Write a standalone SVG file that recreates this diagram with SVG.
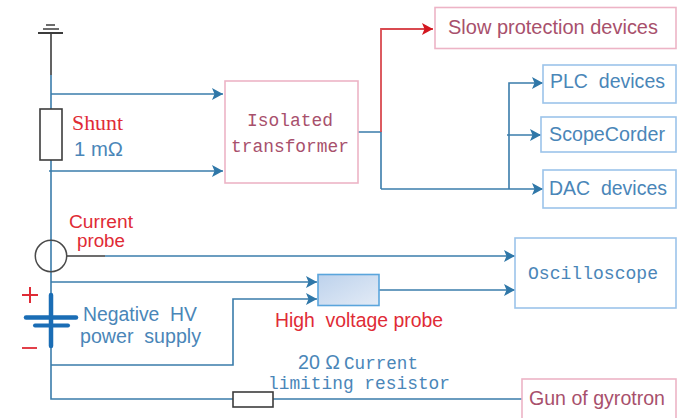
<svg xmlns="http://www.w3.org/2000/svg" width="683" height="418" viewBox="0 0 683 418">
<style>
.w{stroke:#3a7cab;stroke-width:1.6;fill:none}
.a{marker-end:url(#ah)}
.k{stroke:#3c3c3c;stroke-width:1.6;fill:none}
.kb{stroke:#3c3c3c;stroke-width:1.6;fill:#fff}
.pk{stroke:#edb4c6;stroke-width:1.6;fill:#fff}
.bl{stroke:#9cc4ea;stroke-width:1.6;fill:#fff}
text{font-family:"Liberation Sans",Arial,sans-serif;font-size:20.5px}
.m{font-family:"Liberation Mono","DejaVu Sans Mono",monospace;font-size:18.5px}
.s{font-family:"Liberation Serif",serif;font-size:20.5px}
.c{font-size:17.5px}
.rd{fill:#df2b36}.bt{fill:#4a86b8}.mr{fill:#a8506c}
</style>
<defs>
<marker id="ah" markerUnits="userSpaceOnUse" markerWidth="12" markerHeight="12" refX="11" refY="6" orient="auto"><path d="M0 0L11 6L0 12L2.500 6Z" fill="#2f77a8"/></marker>
<marker id="ar" markerUnits="userSpaceOnUse" markerWidth="12" markerHeight="12" refX="11" refY="6" orient="auto"><path d="M0 0L11 6L0 12L2.500 6Z" fill="#d3161f"/></marker>
<linearGradient id="g" x1="0" y1="0" x2="1" y2="1"><stop offset="0" stop-color="#bdd2ec"/><stop offset="1" stop-color="#e3ebf6"/></linearGradient>
</defs>
<rect width="683" height="418" fill="#fff"/>
<g id="connectors">
<path class="w" d="M51 75V360"/>
<path class="w a" d="M51 94H223"/>
<path class="w a" d="M49 171H223"/>
<path class="w" d="M358 132H381V189"/>
<path d="M381 132V29H433" fill="none" stroke="#d94a50" stroke-width="1.8" marker-end="url(#ar)"/>
<path class="w a" d="M381 189H543"/>
<path class="w a" d="M509 189V83H543"/>
<path class="w a" d="M507 135H541"/>
<path class="k" d="M67 256H105"/>
<path class="w a" d="M105 256H515"/>
<path class="w a" d="M51 282H317"/>
<path class="w a" d="M51 365H233V299H317"/>
<path class="w a" d="M379 290H515"/>
<path class="w" d="M51 360V399H233M273 399H522"/>
</g>
<g id="ground"><path class="k" d="M51 33V75"/><path d="M38 33H63" stroke="#3c3c3c" stroke-width="2"/><path d="M43 29H59" stroke="#3c3c3c" stroke-width="1.5"/><path d="M46 25H55" stroke="#3c3c3c" stroke-width="1.5"/></g>
<g id="shunt"><rect class="kb" x="40" y="109" width="22" height="51"/><text class="s rd" x="72" y="130" textLength="51" lengthAdjust="spacingAndGlyphs">Shunt</text><text class="bt" x="74" y="156" textLength="49" lengthAdjust="spacingAndGlyphs">1 mΩ</text></g>
<g id="current-probe"><circle cx="51" cy="256" r="15.7" fill="none" stroke="#4a4a4a" stroke-width="1.5"/><text class="rd c" x="69" y="228" textLength="64" lengthAdjust="spacingAndGlyphs">Current</text><text class="rd c" x="77" y="247" textLength="48" lengthAdjust="spacingAndGlyphs">probe</text></g>
<g id="power-supply">
<path d="M51 295V346" stroke="#1a6db5" stroke-width="4.500" stroke-linecap="round"/>
<path d="M26 317.500H76" stroke="#1a6db5" stroke-width="4.500" stroke-linecap="round"/>
<path d="M35 325.500H68" stroke="#1a6db5" stroke-width="4" stroke-linecap="round"/>
<path d="M30 287V303M22 295H38" stroke="#df2b36" stroke-width="2"/>
<path d="M22 348H37" stroke="#df2b36" stroke-width="1.800"/>
<text class="bt" x="83" y="321" textLength="114" lengthAdjust="spacingAndGlyphs" xml:space="preserve">Negative  HV</text><text class="bt" x="80" y="343" textLength="121" lengthAdjust="spacingAndGlyphs" xml:space="preserve">power  supply</text></g>
<g id="isolated-transformer"><rect class="pk" x="225" y="81" width="133" height="102"/><text class="m mr" x="247" y="126" textLength="86" lengthAdjust="spacingAndGlyphs">Isolated</text><text class="m mr" x="231" y="152" textLength="118" lengthAdjust="spacingAndGlyphs">transformer</text></g>
<g id="slow-protection"><rect class="pk" x="435" y="7.500" width="241" height="41"/><text class="mr" x="448" y="34" textLength="210" lengthAdjust="spacingAndGlyphs">Slow protection devices</text></g>
<g id="plc"><rect class="bl" x="543" y="65" width="133" height="38"/><text class="bt" x="550" y="88" textLength="115" lengthAdjust="spacingAndGlyphs" xml:space="preserve">PLC  devices</text></g>
<g id="scopecorder"><rect class="bl" x="541" y="117" width="135" height="35"/><text class="bt" x="549" y="141" textLength="116" lengthAdjust="spacingAndGlyphs">ScopeCorder</text></g>
<g id="dac"><rect class="bl" x="543" y="170" width="133" height="38"/><text class="bt" x="549" y="195" textLength="118" lengthAdjust="spacingAndGlyphs" xml:space="preserve">DAC  devices</text></g>
<g id="oscilloscope"><rect class="bl" x="515" y="238" width="161" height="70"/><text class="m bt" x="528" y="279" textLength="130" lengthAdjust="spacingAndGlyphs">Oscilloscope</text></g>
<g id="hv-probe"><rect x="318" y="274.500" width="61" height="31" fill="url(#g)" stroke="#5aa5dc" stroke-width="1.600"/><text class="rd" x="275" y="327" textLength="168" lengthAdjust="spacingAndGlyphs" xml:space="preserve">High  voltage probe</text></g>
<g id="limiting-resistor"><rect class="kb" x="233" y="392" width="40" height="15"/><text class="bt" x="298" y="369" textLength="42" lengthAdjust="spacingAndGlyphs">20 Ω</text><text class="m bt" x="344" y="369" textLength="74" lengthAdjust="spacingAndGlyphs">Current</text><text class="m bt" x="268" y="389" textLength="182" lengthAdjust="spacingAndGlyphs">limiting resistor</text></g>
<g id="gun"><rect class="pk" x="522" y="379" width="154" height="45"/><text class="mr" x="529" y="405" textLength="136" lengthAdjust="spacingAndGlyphs">Gun of gyrotron</text></g>
</svg>
